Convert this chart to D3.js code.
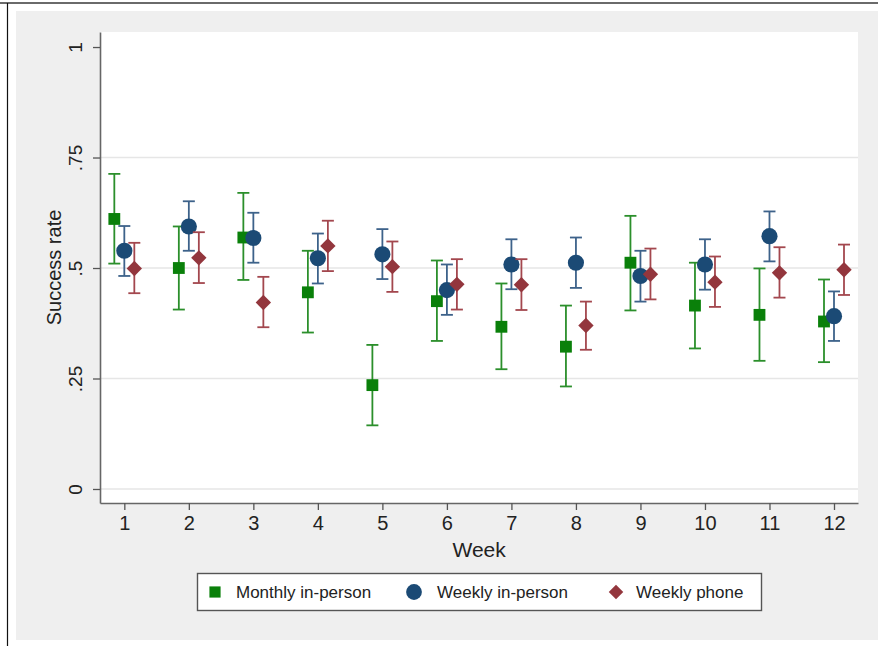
<!DOCTYPE html>
<html>
<head>
<meta charset="utf-8">
<script src="https://cdn.jsdelivr.net/npm/d3@7"></script>
<style>
  html, body { margin: 0; padding: 0; background: #ffffff; }
  svg { display: block; font-family: "Liberation Sans", Arial, Helvetica, sans-serif; }
</style>
</head>
<body>
<svg id="chart" width="878" height="646"></svg>
<script>
// Weekly success rates with 95% confidence intervals, by contact mode
const weeks = [1, 2, 3, 4, 5, 6, 7, 8, 9, 10, 11, 12];

const monthlyRate = [0.611, 0.500, 0.569, 0.445, 0.235, 0.425, 0.367, 0.322, 0.512, 0.415, 0.394, 0.379];
const monthlyLo   = [0.510, 0.406, 0.473, 0.354, 0.144, 0.335, 0.271, 0.232, 0.404, 0.318, 0.290, 0.287];
const monthlyHi   = [0.713, 0.594, 0.670, 0.539, 0.326, 0.517, 0.465, 0.415, 0.618, 0.512, 0.499, 0.474];

const weeklyRate  = [0.539, 0.594, 0.568, 0.522, 0.531, 0.450, 0.508, 0.512, 0.482, 0.508, 0.572, 0.391];
const weeklyLo    = [0.482, 0.539, 0.512, 0.465, 0.475, 0.394, 0.452, 0.455, 0.424, 0.451, 0.515, 0.335];
const weeklyHi    = [0.595, 0.651, 0.625, 0.578, 0.588, 0.508, 0.565, 0.569, 0.539, 0.565, 0.628, 0.447];

const phoneRate   = [0.499, 0.523, 0.422, 0.550, 0.503, 0.463, 0.462, 0.370, 0.486, 0.468, 0.489, 0.496];
const phoneLo     = [0.443, 0.466, 0.366, 0.493, 0.446, 0.406, 0.405, 0.315, 0.429, 0.412, 0.433, 0.439];
const phoneHi     = [0.557, 0.581, 0.480, 0.607, 0.560, 0.520, 0.520, 0.424, 0.544, 0.526, 0.547, 0.553];

const seriesNames = ["Monthly in-person", "Weekly in-person", "Weekly phone"];
const yTickValues = [0, 0.25, 0.5, 0.75, 1];
const yTickLabels = ["0", ".25", ".5", ".75", "1"];
const xTitle = "Week";
const yTitle = "Success rate";

// Styling and layout
const colors    = ["#0a800a", "#1b4a75", "#93363d"];
const barColors = ["#2b8f2b", "#3d628a", "#a3474e"];
// Stata-style markers: square, circle, and a square turned 45 degrees for the diamond
const shapes    = [d3.symbolSquare, d3.symbolCircle, d3.symbolSquare];
const rotations = [0, 0, 45];
const sizes     = [140, 205, 118];
const shifts    = [-0.155, 0, 0.155];

const series = [
  { name: seriesNames[0], rate: monthlyRate, lo: monthlyLo, hi: monthlyHi },
  { name: seriesNames[1], rate: weeklyRate,  lo: weeklyLo,  hi: weeklyHi },
  { name: seriesNames[2], rate: phoneRate,   lo: phoneLo,   hi: phoneHi }
];

const svg = d3.select("#chart");

// Outer frame and graph background
svg.append("rect").attr("x", 16).attr("y", 11).attr("width", 862).attr("height", 629).attr("fill", "#efefef");
svg.append("line").attr("x1", 0).attr("x2", 878).attr("y1", 3).attr("y2", 3)
  .attr("stroke", "#6a6a6a").attr("stroke-width", 2);
svg.append("line").attr("x1", 7.5).attr("x2", 7.5).attr("y1", 3).attr("y2", 646)
  .attr("stroke", "#111").attr("stroke-width", 1.2);

const plot = { left: 100, right: 858, top: 32, bottom: 503 };

const x = d3.scaleLinear().domain([0.623, 12.372]).range([plot.left, plot.right]);
const y = d3.scaleLinear().domain([-0.0317, 1.034]).range([plot.bottom, plot.top]);

// Plot region
svg.append("rect")
  .attr("x", plot.left).attr("y", plot.top)
  .attr("width", plot.right - plot.left).attr("height", plot.bottom - plot.top)
  .attr("fill", "#ffffff");

// Horizontal gridlines
svg.append("g")
  .selectAll("line")
  .data(yTickValues.filter(v => v < 1))
  .join("line")
  .attr("x1", plot.left).attr("x2", plot.right)
  .attr("y1", d => y(d)).attr("y2", d => y(d))
  .attr("stroke", "#e6e6e6").attr("stroke-width", 1.6);

// Axes
const xAxis = d3.axisBottom(x).tickValues(weeks).tickSize(7).tickSizeOuter(0).tickPadding(6);
const gx = svg.append("g").attr("transform", `translate(0,${plot.bottom})`).call(xAxis);
gx.select(".domain").attr("stroke", "#666").attr("stroke-width", 1.6);
gx.selectAll(".tick line").attr("stroke", "#555").attr("stroke-width", 1.3);
gx.selectAll(".tick text").attr("font-size", 20).attr("fill", "#222")
  .attr("font-family", "Liberation Sans, Arial, sans-serif");

const yAxis = d3.axisLeft(y).tickValues(yTickValues)
  .tickFormat((d, i) => yTickLabels[i]).tickSize(7).tickSizeOuter(0).tickPadding(6);
const gy = svg.append("g").attr("transform", `translate(${plot.left},0)`).call(yAxis);
gy.select(".domain").attr("stroke", "#666").attr("stroke-width", 1.6);
gy.selectAll(".tick line").attr("stroke", "#555").attr("stroke-width", 1.3);
gy.selectAll(".tick text")
  .attr("font-size", 19).attr("fill", "#222")
  .attr("font-family", "Liberation Sans, Arial, sans-serif")
  .attr("text-anchor", "middle")
  .attr("dy", null)
  .attr("x", null)
  .attr("transform", "translate(-18,0) rotate(-90)")
  .attr("y", 0);

// Axis titles
svg.append("text")
  .attr("x", x(6.5)).attr("y", 557)
  .attr("text-anchor", "middle").attr("font-size", 21).attr("fill", "#222")
  .text(xTitle);
svg.append("text")
  .attr("transform", `translate(61,${(plot.top + plot.bottom) / 2}) rotate(-90)`)
  .attr("text-anchor", "middle").attr("font-size", 20).attr("fill", "#222")
  .text(yTitle);

// Error bars with caps, then markers, one series at a time
const capHalf = 6;
series.forEach((s, k) => {
  const g = svg.append("g");
  const rows = weeks.map((w, i) => ({ w: w + shifts[k], v: s.rate[i], lo: s.lo[i], hi: s.hi[i] }));
  const bars = g.selectAll("g.bar").data(rows).join("g").attr("class", "bar")
    .attr("stroke", barColors[k]).attr("stroke-width", 1.8).attr("fill", "none");
  bars.append("line")
    .attr("x1", d => x(d.w)).attr("x2", d => x(d.w))
    .attr("y1", d => y(d.lo)).attr("y2", d => y(d.hi));
  bars.append("line")
    .attr("x1", d => x(d.w) - capHalf).attr("x2", d => x(d.w) + capHalf)
    .attr("y1", d => y(d.hi)).attr("y2", d => y(d.hi));
  bars.append("line")
    .attr("x1", d => x(d.w) - capHalf).attr("x2", d => x(d.w) + capHalf)
    .attr("y1", d => y(d.lo)).attr("y2", d => y(d.lo));
  g.selectAll("path.mark").data(rows).join("path").attr("class", "mark")
    .attr("d", d3.symbol().type(shapes[k]).size(sizes[k]))
    .attr("transform", d => `translate(${x(d.w)},${y(d.v)}) rotate(${rotations[k]})`)
    .attr("fill", colors[k]);
});

// Legend
const legend = svg.append("g");
legend.append("rect")
  .attr("x", 197.5).attr("y", 573.5).attr("width", 564).attr("height", 37)
  .attr("fill", "#ffffff").attr("stroke", "#555").attr("stroke-width", 1.4);
const legendMarkX = [215, 414, 616];
const legendTextX = [236, 437, 636];
const legendSizes = [125, 195, 105];
seriesNames.forEach((name, k) => {
  legend.append("path")
    .attr("d", d3.symbol().type(shapes[k]).size(legendSizes[k]))
    .attr("transform", `translate(${legendMarkX[k]},592) rotate(${rotations[k]})`)
    .attr("fill", colors[k]);
  legend.append("text")
    .attr("x", legendTextX[k]).attr("y", 598)
    .attr("font-size", 17).attr("fill", "#222")
    .text(name);
});
</script>
</body>
</html>
